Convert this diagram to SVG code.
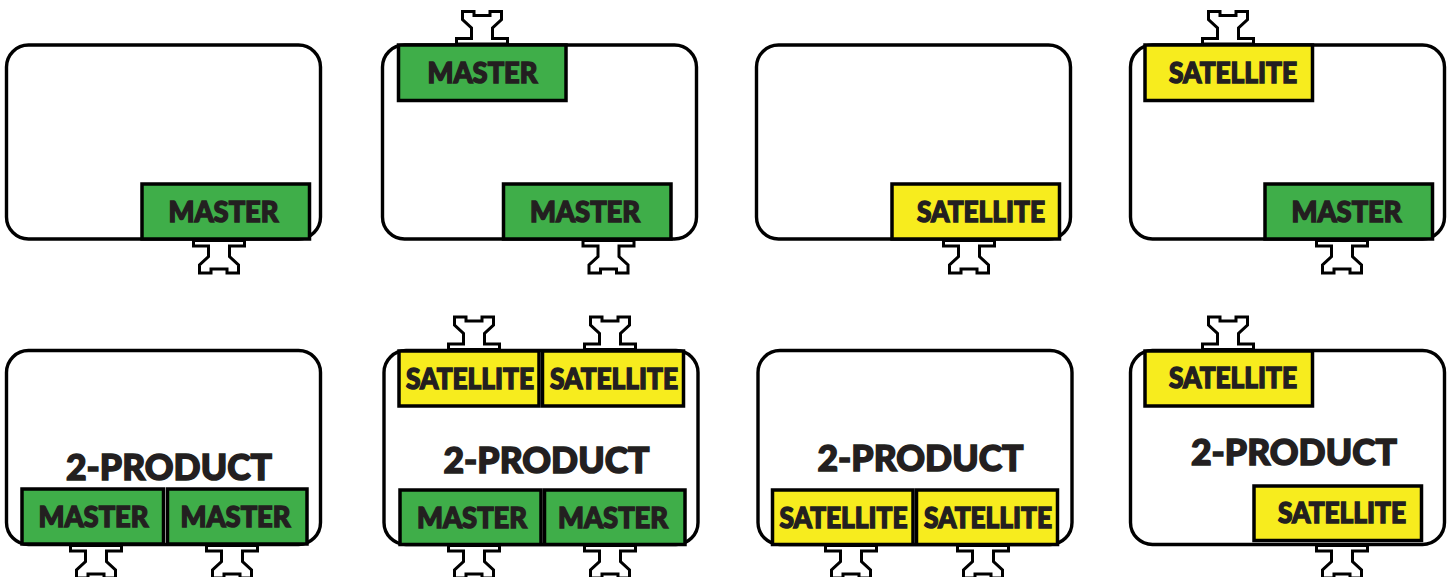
<svg xmlns="http://www.w3.org/2000/svg" width="1454" height="577" viewBox="0 0 1454 577">
<style>
.b{fill:#fff;stroke:#000;stroke-width:3.400}
.m{fill:#3fae49;stroke:#000;stroke-width:3.500}
.s{fill:#f7ec1e;stroke:#000;stroke-width:3.500}
.r{fill:#fff;stroke:#000;stroke-width:3;stroke-linejoin:miter}
text{font-family:"Lato","Liberation Sans",sans-serif;font-weight:900;fill:#231f20;stroke:#231f20;text-anchor:middle}
.t{font-size:28px;stroke-width:1.400}
.l{font-size:36px;stroke-width:1.500}
</style>
<defs>
<g id="rail"><path class="r" d="M-25.500 0V-5.500H-10.500V-16L-19.500 -24.500V-32.500H-8V-28.500H8V-32.500H19.500V-24.500L10.500 -16V-5.500H25.500V0Z"/></g>
</defs>
<rect width="1454" height="577" fill="#fff"/>
<g id="connectors"/>
<g id="n1"><rect class="b" x="6.500" y="45" width="314" height="194" rx="22"/><use href="#rail" transform="translate(219 240.500) scale(1 -1)"/><rect class="m" x="142" y="184" width="167.500" height="55"/><text class="t" x="223.500" y="222" textLength="110" lengthAdjust="spacingAndGlyphs">MASTER</text></g>
<g id="n2"><rect class="b" x="382.500" y="45" width="314" height="194" rx="22"/><use href="#rail" transform="translate(482 44)"/><rect class="m" x="398.500" y="45" width="167.500" height="55.500"/><text class="t" x="482.500" y="83" textLength="110" lengthAdjust="spacingAndGlyphs">MASTER</text><use href="#rail" transform="translate(608.500 240.500) scale(1 -1)"/><rect class="m" x="503.500" y="184" width="167.500" height="55"/><text class="t" x="585" y="222" textLength="110" lengthAdjust="spacingAndGlyphs">MASTER</text></g>
<g id="n3"><rect class="b" x="756.500" y="45" width="314" height="194" rx="22"/><use href="#rail" transform="translate(969 240.500) scale(1 -1)"/><rect class="s" x="892" y="184" width="167.500" height="55"/><text class="t" x="981" y="222" textLength="128" lengthAdjust="spacingAndGlyphs">SATELLITE</text></g>
<g id="n4"><rect class="b" x="1130.500" y="45" width="314" height="194" rx="22"/><use href="#rail" transform="translate(1228 44)"/><rect class="s" x="1145" y="45" width="167.500" height="55.500"/><text class="t" x="1233" y="83" textLength="128" lengthAdjust="spacingAndGlyphs">SATELLITE</text><use href="#rail" transform="translate(1342 240.500) scale(1 -1)"/><rect class="m" x="1265" y="184" width="167.500" height="55"/><text class="t" x="1346.500" y="222" textLength="110" lengthAdjust="spacingAndGlyphs">MASTER</text></g>
<g id="n5"><rect class="b" x="6.500" y="350.500" width="314" height="194" rx="22"/><text class="l" x="169" y="480" textLength="206" lengthAdjust="spacingAndGlyphs">2-PRODUCT</text><use href="#rail" transform="translate(96 545.500) scale(1 -1)"/><use href="#rail" transform="translate(232 545.500) scale(1 -1)"/><rect class="m" x="22" y="489" width="141.500" height="55"/><rect class="m" x="167.500" y="489" width="139.500" height="55"/><text class="t" x="93.500" y="527" textLength="110" lengthAdjust="spacingAndGlyphs">MASTER</text><text class="t" x="235.500" y="527" textLength="110" lengthAdjust="spacingAndGlyphs">MASTER</text></g>
<g id="n6"><rect class="b" x="384" y="350.500" width="314" height="194" rx="22"/><use href="#rail" transform="translate(474 349.500)"/><use href="#rail" transform="translate(610 349.500)"/><rect class="s" x="399" y="351" width="140" height="55"/><rect class="s" x="542.500" y="351" width="141" height="55"/><text class="t" x="470" y="389" textLength="128" lengthAdjust="spacingAndGlyphs">SATELLITE</text><text class="t" x="614" y="389" textLength="128" lengthAdjust="spacingAndGlyphs">SATELLITE</text><text class="l" x="546.500" y="473" textLength="206" lengthAdjust="spacingAndGlyphs">2-PRODUCT</text><use href="#rail" transform="translate(474 545.500) scale(1 -1)"/><use href="#rail" transform="translate(610 545.500) scale(1 -1)"/><rect class="m" x="400" y="490" width="141" height="54.500"/><rect class="m" x="544.500" y="490" width="140.500" height="54.500"/><text class="t" x="472" y="528" textLength="110" lengthAdjust="spacingAndGlyphs">MASTER</text><text class="t" x="613" y="528" textLength="110" lengthAdjust="spacingAndGlyphs">MASTER</text></g>
<g id="n7"><rect class="b" x="758" y="350.500" width="314" height="194" rx="22"/><text class="l" x="920.500" y="471" textLength="206" lengthAdjust="spacingAndGlyphs">2-PRODUCT</text><use href="#rail" transform="translate(851 545.500) scale(1 -1)"/><use href="#rail" transform="translate(983 545.500) scale(1 -1)"/><rect class="s" x="772.500" y="490" width="140.500" height="54.500"/><rect class="s" x="916.500" y="490" width="141" height="54.500"/><text class="t" x="843.500" y="528" textLength="128" lengthAdjust="spacingAndGlyphs">SATELLITE</text><text class="t" x="988" y="528" textLength="128" lengthAdjust="spacingAndGlyphs">SATELLITE</text></g>
<g id="n8"><rect class="b" x="1130.500" y="350.500" width="314" height="194" rx="22"/><use href="#rail" transform="translate(1228 349.500)"/><rect class="s" x="1145" y="351" width="167.500" height="55"/><text class="t" x="1233" y="388" textLength="128" lengthAdjust="spacingAndGlyphs">SATELLITE</text><text class="l" x="1294" y="465" textLength="206" lengthAdjust="spacingAndGlyphs">2-PRODUCT</text><use href="#rail" transform="translate(1342 545.500) scale(1 -1)"/><rect class="s" x="1254" y="486" width="167.500" height="54.500"/><text class="t" x="1342" y="523" textLength="128" lengthAdjust="spacingAndGlyphs">SATELLITE</text></g>
</svg>
